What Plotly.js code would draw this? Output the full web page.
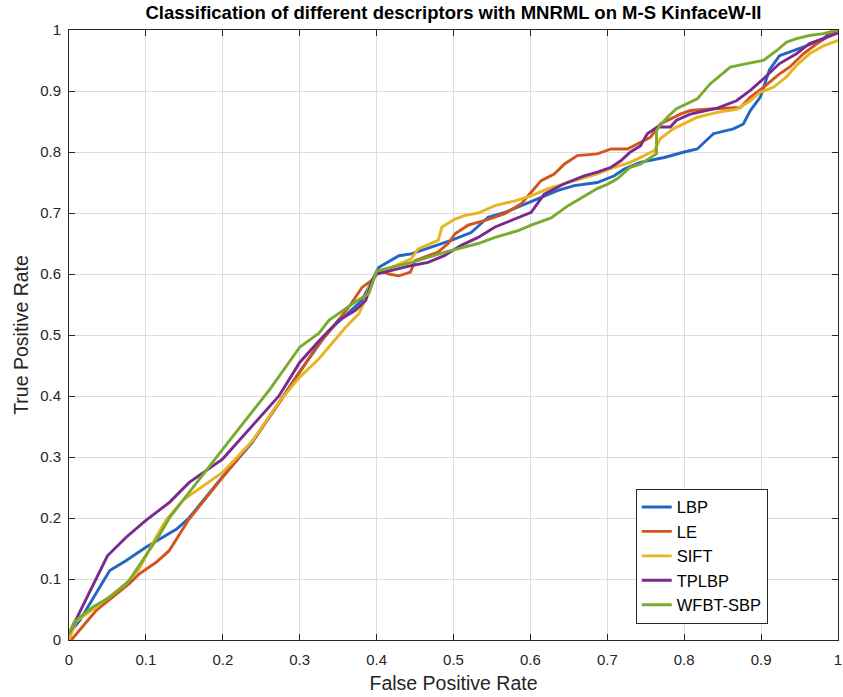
<!DOCTYPE html>
<html>
<head>
<meta charset="utf-8">
<script src="https://cdn.plot.ly/plotly-3.0.1.min.js"></script>
<style>html,body{margin:0;padding:0;background:#fff;}#chart{width:843px;height:697px;}</style>
</head>
<body>
<div id="chart"></div>
<script>
const seriesNames = ["LBP", "LE", "SIFT", "TPLBP", "WFBT-SBP"];
const seriesColors = ["#2266c4", "#d4541d", "#e8b423", "#7a2a8f", "#77ac30"];

const lbpX = [0, 0.014, 0.053, 0.074, 0.1, 0.14, 0.156, 0.2, 0.239, 0.273, 0.3, 0.338, 0.381, 0.403, 0.429, 0.445, 0.467, 0.497, 0.523, 0.545, 0.567, 0.588, 0.61, 0.636, 0.657, 0.687, 0.709, 0.722, 0.743, 0.774, 0.8, 0.817, 0.838, 0.864, 0.877, 0.886, 0.899, 0.905, 0.911, 0.924, 0.942, 0.959, 0.981, 0.993, 1];
const lbpY = [0.01, 0.032, 0.114, 0.13, 0.152, 0.182, 0.2, 0.268, 0.325, 0.388, 0.44, 0.507, 0.557, 0.611, 0.63, 0.633, 0.642, 0.655, 0.668, 0.693, 0.701, 0.712, 0.723, 0.737, 0.745, 0.75, 0.761, 0.772, 0.783, 0.791, 0.8, 0.805, 0.83, 0.838, 0.846, 0.868, 0.89, 0.912, 0.935, 0.958, 0.966, 0.974, 0.986, 0.999, 1];

const leX = [0, 0.003, 0.035, 0.057, 0.078, 0.091, 0.113, 0.13, 0.156, 0.2, 0.239, 0.273, 0.325, 0.338, 0.364, 0.381, 0.394, 0.403, 0.416, 0.429, 0.444, 0.45, 0.48, 0.493, 0.502, 0.519, 0.541, 0.567, 0.588, 0.601, 0.614, 0.631, 0.644, 0.661, 0.687, 0.705, 0.726, 0.739, 0.756, 0.769, 0.782, 0.795, 0.808, 0.838, 0.873, 0.886, 0.903, 0.924, 0.937, 0.955, 0.972, 0.989, 1];
const leY = [0, 0, 0.048, 0.07, 0.092, 0.108, 0.127, 0.146, 0.198, 0.267, 0.327, 0.388, 0.486, 0.505, 0.546, 0.578, 0.59, 0.606, 0.6, 0.597, 0.603, 0.622, 0.636, 0.65, 0.666, 0.68, 0.688, 0.699, 0.715, 0.734, 0.753, 0.764, 0.78, 0.794, 0.797, 0.805, 0.805, 0.813, 0.824, 0.846, 0.854, 0.862, 0.868, 0.871, 0.873, 0.89, 0.906, 0.928, 0.939, 0.961, 0.977, 0.991, 1];

const siftX = [0, 0.009, 0.035, 0.074, 0.091, 0.113, 0.126, 0.148, 0.2, 0.239, 0.273, 0.3, 0.325, 0.338, 0.36, 0.377, 0.386, 0.39, 0.4, 0.445, 0.454, 0.48, 0.485, 0.502, 0.515, 0.532, 0.554, 0.58, 0.601, 0.623, 0.644, 0.666, 0.687, 0.709, 0.73, 0.748, 0.761, 0.769, 0.786, 0.804, 0.817, 0.843, 0.868, 0.886, 0.899, 0.916, 0.933, 0.946, 0.963, 0.981, 1];
const siftY = [0, 0.03, 0.054, 0.092, 0.116, 0.168, 0.196, 0.229, 0.275, 0.327, 0.39, 0.431, 0.461, 0.48, 0.513, 0.535, 0.56, 0.578, 0.6, 0.625, 0.641, 0.655, 0.677, 0.69, 0.696, 0.7, 0.712, 0.72, 0.728, 0.74, 0.748, 0.756, 0.764, 0.775, 0.783, 0.794, 0.802, 0.822, 0.838, 0.849, 0.857, 0.865, 0.87, 0.884, 0.898, 0.906, 0.923, 0.942, 0.961, 0.974, 0.983];

const tplbpX = [0, 0.05, 0.074, 0.1, 0.131, 0.156, 0.2, 0.273, 0.3, 0.325, 0.351, 0.372, 0.386, 0.394, 0.4, 0.446, 0.467, 0.488, 0.51, 0.532, 0.554, 0.58, 0.601, 0.618, 0.644, 0.67, 0.687, 0.705, 0.718, 0.73, 0.743, 0.752, 0.765, 0.782, 0.79, 0.808, 0.843, 0.868, 0.886, 0.903, 0.924, 0.946, 0.963, 0.981, 1];
const tplbpY = [0.01, 0.138, 0.168, 0.196, 0.226, 0.258, 0.297, 0.4, 0.455, 0.49, 0.524, 0.54, 0.557, 0.589, 0.6, 0.614, 0.619, 0.63, 0.647, 0.66, 0.677, 0.69, 0.701, 0.731, 0.748, 0.761, 0.767, 0.775, 0.786, 0.8, 0.81, 0.83, 0.841, 0.841, 0.852, 0.862, 0.872, 0.884, 0.901, 0.92, 0.945, 0.961, 0.978, 0.986, 0.995];

const wfbtX = [0, 0.007, 0.031, 0.053, 0.078, 0.1, 0.117, 0.131, 0.156, 0.2, 0.26, 0.3, 0.325, 0.338, 0.372, 0.39, 0.4, 0.446, 0.489, 0.532, 0.554, 0.584, 0.601, 0.627, 0.649, 0.67, 0.687, 0.7, 0.713, 0.73, 0.743, 0.764, 0.764, 0.767, 0.778, 0.79, 0.804, 0.817, 0.834, 0.847, 0.86, 0.881, 0.903, 0.92, 0.933, 0.946, 0.963, 0.981, 1];
const wfbtY = [0.01, 0.03, 0.054, 0.07, 0.097, 0.14, 0.171, 0.201, 0.242, 0.313, 0.409, 0.48, 0.503, 0.524, 0.554, 0.568, 0.605, 0.619, 0.636, 0.65, 0.66, 0.671, 0.68, 0.692, 0.712, 0.728, 0.74, 0.747, 0.756, 0.775, 0.78, 0.797, 0.835, 0.841, 0.857, 0.871, 0.879, 0.887, 0.912, 0.925, 0.939, 0.945, 0.95, 0.966, 0.98, 0.986, 0.991, 0.994, 1];

const tickVals = [0, 0.1, 0.2, 0.3, 0.4, 0.5, 0.6, 0.7, 0.8, 0.9, 1];
const tickText = ["0", "0.1", "0.2", "0.3", "0.4", "0.5", "0.6", "0.7", "0.8", "0.9", "1"];

const xs = [lbpX, leX, siftX, tplbpX, wfbtX];
const ys = [lbpY, leY, siftY, tplbpY, wfbtY];

const traces = seriesNames.map((n, i) => ({
  type: "scatter", mode: "lines", name: n, x: xs[i], y: ys[i],
  line: {color: seriesColors[i], width: 2.9}
}));

const FONT = "Liberation Sans, Arial, sans-serif";
const axisCommon = {
  range: [0, 1], tickvals: tickVals, ticktext: tickText,
  showgrid: true, gridcolor: "#dcdcdc", gridwidth: 1,
  zeroline: false, showline: true, linecolor: "#262626", linewidth: 1,
  mirror: "ticks", ticks: "inside", ticklen: 6, tickcolor: "#262626",
  tickfont: {family: FONT, size: 15, color: "#262626"},
  fixedrange: true
};

const layout = {
  width: 843, height: 697,
  margin: {l: 69, r: 5, t: 30, b: 57},
  paper_bgcolor: "#ffffff", plot_bgcolor: "#ffffff",
  title: {text: "<b>Classification of different descriptors with MNRML on M-S KinfaceW-II</b>",
    font: {family: FONT, size: 18.5, color: "#000"},
    x: 0.5, xref: "paper", xanchor: "center", y: 0.982, yref: "container", yanchor: "middle"},
  xaxis: Object.assign({}, axisCommon, {
    title: {text: "False Positive Rate", font: {family: FONT, size: 19.5, color: "#262626"}, standoff: 9},
    ticklabelstandoff: 6
  }),
  yaxis: Object.assign({}, axisCommon, {
    title: {text: "True Positive Rate", font: {family: FONT, size: 19.5, color: "#262626"}, standoff: 6},
    ticklabelstandoff: 4
  }),
  showlegend: true,
  legend: {x: 0.737, y: 0.248, xanchor: "left", yanchor: "top",
    bgcolor: "#ffffff", bordercolor: "#262626", borderwidth: 1,
    font: {family: FONT, size: 16.5, color: "#000"},
    tracegroupgap: 0}
};

Plotly.newPlot("chart", traces, layout, {displayModeBar: false, staticPlot: true});
</script>
</body>
</html>
